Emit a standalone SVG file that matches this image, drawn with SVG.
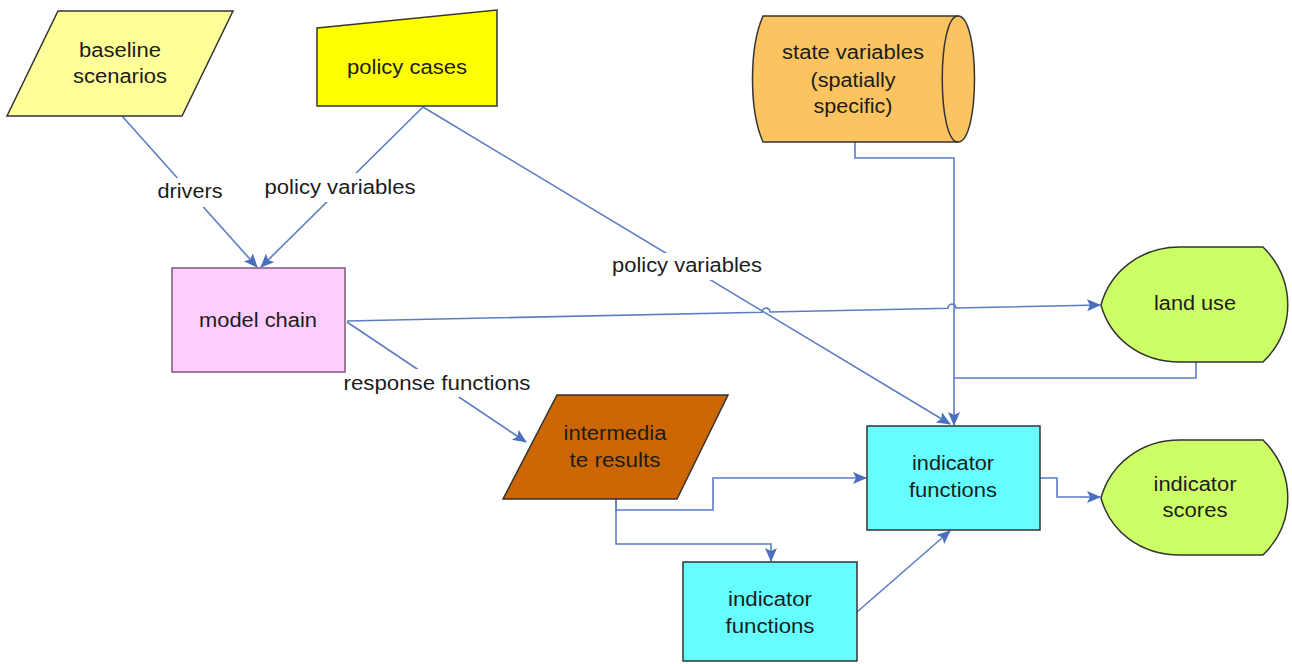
<svg xmlns="http://www.w3.org/2000/svg" width="1292" height="664" viewBox="0 0 1292 664">
<style>
  .lbl{font-family:"Liberation Sans",Arial,sans-serif;font-size:20px;fill:#1c1c1c;text-anchor:middle}
  .shape{stroke:#333;stroke-width:1.5}
  .conn{fill:none;stroke:#5b7ec2;stroke-width:1.6}
  .bg{fill:#fff;stroke:none}
</style>
<defs>
  <marker id="arr" markerUnits="userSpaceOnUse" markerWidth="16" markerHeight="14" refX="13" refY="6" orient="auto">
    <path d="M0,0 L14,6 L0,12 L3,6 z" fill="#4a6fbd"/>
  </marker>
</defs>
<rect width="1292" height="664" fill="#fff"/>

<g id="connectors">
  <path class="conn" d="M122,116 L257,267" marker-end="url(#arr)"/>
  <path class="conn" d="M423,107 L261,267" marker-end="url(#arr)"/>
  <path class="conn" d="M423,107 L950,424" marker-end="url(#arr)"/>
  <path class="conn" d="M347,321 L762,312.2 A4,4 0 0 1 770,312 L948,308.2 A4,4 0 0 1 956,308 L1100,305" marker-end="url(#arr)"/>
  <path class="conn" d="M347,322 L526,442" marker-end="url(#arr)"/>
  <path class="conn" d="M855,142 L855,158 L954,158 L954,425" marker-end="url(#arr)"/>
  <path class="conn" d="M1196,362 L1196,378 L954,378"/>
  <path class="conn" d="M616,499 L616,510 L713,510 L713,478 L866,478" marker-end="url(#arr)"/>
  <path class="conn" d="M616,499 L616,544 L771,544 L771,561" marker-end="url(#arr)"/>
  <path class="conn" d="M857,612 L950,531" marker-end="url(#arr)"/>
  <path class="conn" d="M1040,478 L1057,478 L1057,497 L1100,497" marker-end="url(#arr)"/>

  <rect class="bg" x="155" y="178" width="70" height="29"/>
  <text class="lbl" x="190" y="198" textLength="65" lengthAdjust="spacingAndGlyphs">drivers</text>
  <rect class="bg" x="262" y="173" width="156" height="29"/>
  <text class="lbl" x="340" y="194" textLength="151" lengthAdjust="spacingAndGlyphs">policy variables</text>
  <rect class="bg" x="610" y="253" width="156" height="27"/>
  <text class="lbl" x="687" y="272" textLength="150" lengthAdjust="spacingAndGlyphs">policy variables</text>
  <rect class="bg" x="340" y="369" width="193" height="28"/>
  <text class="lbl" x="437" y="390" textLength="187" lengthAdjust="spacingAndGlyphs">response functions</text>
</g>

<g id="baseline-scenarios">
  <polygon class="shape" points="58,11 233,11 182,116 7,116" fill="#ffff99"/>
  <text class="lbl" x="120" y="57" textLength="82" lengthAdjust="spacingAndGlyphs">baseline</text>
  <text class="lbl" x="120" y="83" textLength="94" lengthAdjust="spacingAndGlyphs">scenarios</text>
</g>

<g id="policy-cases">
  <polygon class="shape" points="317,28 497,10 497,106 317,106" fill="#ffff00"/>
  <text class="lbl" x="407" y="74" textLength="120" lengthAdjust="spacingAndGlyphs">policy cases</text>
</g>

<g id="state-variables">
  <path class="shape" d="M763,16 L958,16 C980,16 980,142 958,142 L763,142 C749,110 749,48 763,16 z" fill="#fcc460"/>
  <path class="shape" fill="none" d="M958,16 C937,16 937,142 958,142"/>
  <text class="lbl" x="853" y="59" textLength="142" lengthAdjust="spacingAndGlyphs">state variables</text>
  <text class="lbl" x="853" y="87" textLength="85" lengthAdjust="spacingAndGlyphs">(spatially</text>
  <text class="lbl" x="853" y="113" textLength="79" lengthAdjust="spacingAndGlyphs">specific)</text>
</g>

<g id="model-chain">
  <rect x="172" y="268" width="173" height="104" fill="#ffccff" stroke="#7a5a7a" stroke-width="1.5"/>
  <text class="lbl" x="258" y="327" textLength="118" lengthAdjust="spacingAndGlyphs" fill="#2a1a2a">model chain</text>
</g>

<g id="land-use">
  <path class="shape" d="M1101,305 C1110,272 1140,247 1180,247 L1263,247 C1296,280 1296,330 1263,362 L1180,362 C1140,362 1110,338 1101,305 z" fill="#ccff66"/>
  <text class="lbl" x="1195" y="310" textLength="82" lengthAdjust="spacingAndGlyphs">land use</text>
</g>

<g id="intermediate-results">
  <polygon class="shape" points="557,395 728,395 677,499 503,499" fill="#cc6600"/>
  <text class="lbl" x="615" y="440" textLength="103" lengthAdjust="spacingAndGlyphs" fill="#2a1205">intermedia</text>
  <text class="lbl" x="615" y="467" textLength="91" lengthAdjust="spacingAndGlyphs" fill="#2a1205">te results</text>
</g>

<g id="indicator-functions-upper">
  <rect class="shape" x="867" y="426" width="173" height="104" fill="#66ffff"/>
  <text class="lbl" x="953" y="470" textLength="82" lengthAdjust="spacingAndGlyphs">indicator</text>
  <text class="lbl" x="953" y="497" textLength="88" lengthAdjust="spacingAndGlyphs">functions</text>
</g>

<g id="indicator-functions-lower">
  <rect class="shape" x="683" y="562" width="174" height="99" fill="#66ffff"/>
  <text class="lbl" x="770" y="606" textLength="84" lengthAdjust="spacingAndGlyphs">indicator</text>
  <text class="lbl" x="770" y="633" textLength="89" lengthAdjust="spacingAndGlyphs">functions</text>
</g>

<g id="indicator-scores">
  <path class="shape" d="M1101,498 C1110,465 1140,440 1180,440 L1263,440 C1296,473 1296,523 1263,555 L1180,555 C1140,555 1110,531 1101,498 z" fill="#ccff66"/>
  <text class="lbl" x="1195" y="491" textLength="83" lengthAdjust="spacingAndGlyphs">indicator</text>
  <text class="lbl" x="1195" y="517" textLength="65" lengthAdjust="spacingAndGlyphs">scores</text>
</g>
</svg>
